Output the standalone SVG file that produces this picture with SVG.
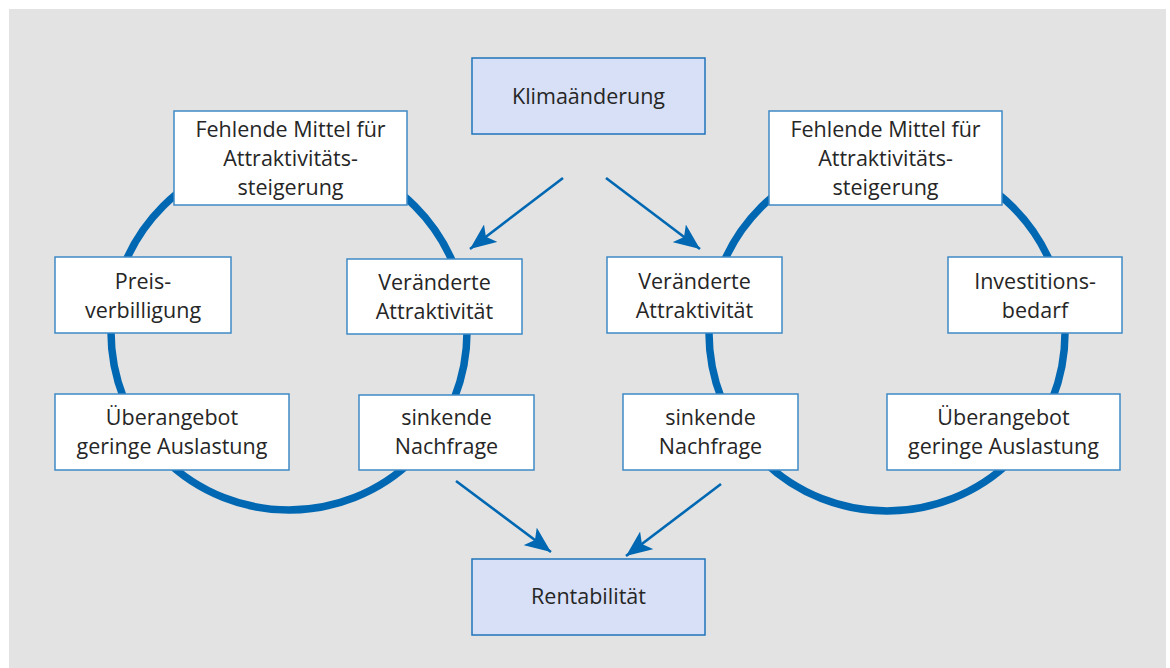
<svg xmlns="http://www.w3.org/2000/svg" width="1170" height="668" viewBox="0 0 1170 668">
<style>
.bg{fill:#e3e3e3}
.box{fill:#ffffff;stroke:#3f8ac6;stroke-width:1.5}
.main{fill:#d8e0f7;stroke:#1f74bb;stroke-width:1.5}
.ring{fill:none;stroke:#0068b3;stroke-width:7.5}
.arr{stroke:#0068b3;stroke-width:2.6;fill:none}
text{font-family:"Open Sans","Noto Sans","Liberation Sans",sans-serif;font-size:21.5px;fill:#262626;text-anchor:middle}
</style>
<defs>
<marker id="ah" markerUnits="userSpaceOnUse" markerWidth="28" markerHeight="22" refX="26" refY="11" orient="auto">
<path d="M0,0 L26,11 L0,22 L6,11 Z" fill="#0068b3"/>
</marker>
</defs>
<rect class="bg" x="9" y="9" width="1157" height="659"/>
<g id="rings">
<circle class="ring" cx="289" cy="332" r="178"/>
<circle class="ring" cx="887" cy="333" r="178"/>
</g>
<g id="connectors">
<line class="arr" x1="563" y1="178" x2="470" y2="249" marker-end="url(#ah)"/>
<line class="arr" x1="606" y1="178" x2="700" y2="249" marker-end="url(#ah)"/>
<line class="arr" x1="456" y1="481" x2="551" y2="552" marker-end="url(#ah)"/>
<line class="arr" x1="721" y1="484" x2="626" y2="556" marker-end="url(#ah)"/>
</g>
<g id="klima"><rect class="main" x="472" y="58" width="233" height="76"/><text x="588.5" y="104">Klimaänderung</text></g>
<g id="rentabilitaet"><rect class="main" x="472" y="559" width="233" height="76"/><text x="588.5" y="604">Rentabilität</text></g>
<g id="fehlende-links"><rect class="box" x="174" y="111" width="233" height="94"/><text x="290.5" y="137">Fehlende Mittel für</text><text x="290.5" y="166">Attraktivitäts-</text><text x="290.5" y="195">steigerung</text></g>
<g id="fehlende-rechts"><rect class="box" x="769" y="111" width="233" height="94"/><text x="885.5" y="137">Fehlende Mittel für</text><text x="885.5" y="166">Attraktivitäts-</text><text x="885.5" y="195">steigerung</text></g>
<g id="preis"><rect class="box" x="55" y="257" width="176" height="76"/><text x="143" y="289">Preis-</text><text x="143" y="318">verbilligung</text></g>
<g id="veraenderte-links"><rect class="box" x="347" y="259" width="175" height="75"/><text x="434.5" y="290">Veränderte</text><text x="434.5" y="319">Attraktivität</text></g>
<g id="veraenderte-rechts"><rect class="box" x="607" y="257" width="175" height="76"/><text x="694.5" y="289">Veränderte</text><text x="694.5" y="318">Attraktivität</text></g>
<g id="investition"><rect class="box" x="948" y="257" width="174" height="76"/><text x="1035" y="289">Investitions-</text><text x="1035" y="318">bedarf</text></g>
<g id="ueberangebot-links"><rect class="box" x="55" y="394" width="234" height="76"/><text x="172" y="425">Überangebot</text><text x="172" y="454">geringe Auslastung</text></g>
<g id="sinkende-links"><rect class="box" x="359" y="395" width="175" height="75"/><text x="446.5" y="425">sinkende</text><text x="446.5" y="454">Nachfrage</text></g>
<g id="sinkende-rechts"><rect class="box" x="623" y="394" width="175" height="76"/><text x="710.5" y="425">sinkende</text><text x="710.5" y="454">Nachfrage</text></g>
<g id="ueberangebot-rechts"><rect class="box" x="887" y="394" width="233" height="76"/><text x="1003.5" y="425">Überangebot</text><text x="1003.5" y="454">geringe Auslastung</text></g>
</svg>
